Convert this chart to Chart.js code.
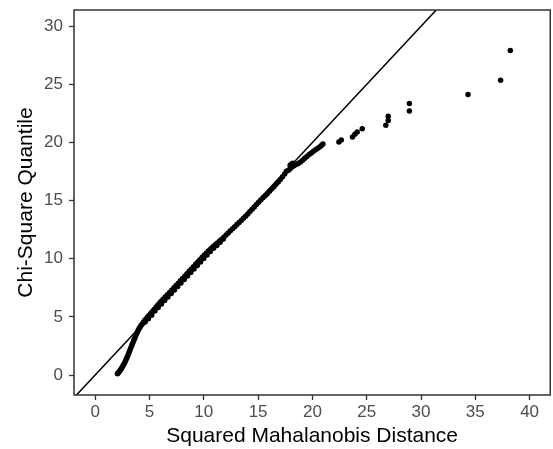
<!DOCTYPE html>
<html><head><meta charset="utf-8">
<script src="https://cdn.jsdelivr.net/npm/chart.js@4/dist/chart.umd.min.js"></script>
<style>html,body{margin:0;padding:0;background:#fff;} #wrap{width:553px;height:449px;}</style>
</head><body><div id="wrap"><canvas id="c" width="553" height="449"></canvas></div>
<script>
// Squared Mahalanobis distances (x)
const mahalanobis = [
  2.05,2.12,2.2,2.28,2.36,2.44,2.52,2.6,2.68,2.76,2.84,2.92,3.0,3.08,3.16,3.24,3.32,3.4,3.48,3.56,3.64,3.72,3.8,3.88,3.96,
  4.05,4.14,4.24,4.35,4.46,4.58,4.7,4.83,4.96,5.09,5.22,5.35,5.48,5.62,5.76,5.9,
  6.05,6.25,6.45,6.65,6.85,7.05,7.25,7.45,7.65,7.85,8.05,8.25,8.45,8.65,8.85,9.05,9.25,9.45,9.65,9.85,
  10.05,10.25,10.45,10.65,10.85,11.05,11.25,11.45,11.65,11.85,12.05,12.25,12.45,12.65,12.85,13.05,13.25,13.45,13.65,13.85,
  14.05,14.25,14.45,14.65,14.85,15.05,15.25,15.45,15.65,15.85,16.05,16.25,16.45,16.65,16.85,17.05,17.25,17.45,
  4.6,4.9,5.2,5.5,5.8,6.1,6.4,6.7,7.0,7.3,7.6,7.9,8.2,8.5,8.8,9.1,9.4,9.7,10.0,10.3,10.6,10.9,11.2,11.5,11.8,
  17.6,17.8,17.95,18.1,18.3,18.5,18.7,18.9,19.1,19.3,19.5,19.7,19.9,20.1,20.3,20.5,20.7,20.85,20.97,
  17.95,18.1,18.2,
  22.44,22.66,23.69,23.91,24.13,24.59,26.76,26.98,26.98,28.93,28.93,34.33,37.33,38.22
];
// Chi-square quantiles (y)
const chiSquare = [
  0.1,0.17,0.27,0.37,0.48,0.6,0.73,0.86,1.0,1.15,1.31,1.48,1.66,1.85,2.04,2.23,2.42,2.61,2.8,2.99,3.17,3.35,3.52,3.68,3.84,
  4.0,4.14,4.28,4.42,4.56,4.7,4.84,4.98,5.12,5.26,5.4,5.54,5.68,5.84,6.0,6.16,
  6.32,6.52,6.72,6.9,7.1,7.3,7.5,7.7,7.9,8.1,8.3,8.5,8.72,8.92,9.12,9.32,9.52,9.72,9.92,10.12,
  10.32,10.5,10.68,10.86,11.04,11.2,11.36,11.52,11.68,11.86,12.04,12.22,12.4,12.58,12.76,12.94,13.12,13.3,13.48,13.66,
  13.86,14.06,14.26,14.46,14.66,14.86,15.06,15.24,15.42,15.6,15.8,16.0,16.2,16.4,16.6,16.82,17.05,17.3,
  4.55,4.85,5.15,5.5,5.8,6.1,6.4,6.72,7.02,7.32,7.62,7.92,8.22,8.52,8.82,9.12,9.42,9.72,10.02,10.32,10.62,10.9,11.15,11.42,11.7,
  17.52,17.62,17.75,17.88,18.0,18.1,18.2,18.32,18.48,18.64,18.8,18.96,19.1,19.24,19.38,19.5,19.64,19.76,19.87,
  18.05,18.15,18.22,
  20.04,20.22,20.48,20.71,20.91,21.19,21.49,21.89,22.27,22.72,23.36,24.13,25.35,27.92
];
const xTicks = [0,5,10,15,20,25,30,35,40];
const yTicks = [0,5,10,15,20,25,30];
const refLineEnds = [-5, 45]; // ends of the y = x reference line
const xTitle = 'Squared Mahalanobis Distance';
const yTitle = 'Chi-Square Quantile';

const points = mahalanobis.map((x, i) => ({x: x, y: chiSquare[i]}));
const refLine = refLineEnds.map(v => ({x: v, y: v}));

const FONT = '"Liberation Sans", Arial, Helvetica, sans-serif';

const panelBorder = {
  id: 'panelBorder',
  afterDraw(chart) {
    const {ctx, chartArea: a} = chart;
    ctx.save();
    ctx.strokeStyle = '#333333';
    ctx.lineWidth = 1.5;
    ctx.strokeRect(a.left, a.top, a.right - a.left, a.bottom - a.top);
    ctx.restore();
  }
};

function noPad(s) { s.paddingTop = 0; s.paddingBottom = 0; s.paddingLeft = 0; s.paddingRight = 0; }

new Chart(document.getElementById('c'), {
  type: 'scatter',
  data: {
    datasets: [
      {
        data: points,
        backgroundColor: '#000000',
        borderWidth: 0,
        pointRadius: 2.75,
        pointHoverRadius: 2.75
      },
      {
        type: 'line',
        data: refLine,
        borderColor: '#000000',
        borderWidth: 1.5,
        pointRadius: 0,
        fill: false,
        showLine: true
      }
    ]
  },
  options: {
    responsive: false,
    devicePixelRatio: 1,
    animation: false,
    events: [],
    layout: {padding: {left: 0, right: 2, top: 10, bottom: 0}},
    plugins: {legend: {display: false}, tooltip: {enabled: false}},
    scales: {
      x: {
        type: 'linear',
        min: -1.95,
        max: 41.9,
        afterBuildTicks: s => { s.ticks = xTicks.map(v => ({value: v})); },
        afterFit: s => { s.height = 54; noPad(s); },
        border: {display: false},
        grid: {drawOnChartArea: false, drawTicks: true, tickLength: 5, tickColor: '#333333', tickWidth: 1.3},
        ticks: {color: '#4D4D4D', font: {family: FONT, size: 17}, padding: 2, maxRotation: 0, autoSkip: false},
        title: {display: true, text: xTitle, color: '#000000', font: {family: FONT, size: 21}, padding: {top: 0, bottom: 0}}
      },
      y: {
        type: 'linear',
        min: -1.72,
        max: 31.4,
        afterBuildTicks: s => { s.ticks = yTicks.map(v => ({value: v})); },
        afterFit: s => { s.width = 74; noPad(s); },
        border: {display: false},
        grid: {drawOnChartArea: false, drawTicks: true, tickLength: 5, tickColor: '#333333', tickWidth: 1.3},
        ticks: {color: '#4D4D4D', font: {family: FONT, size: 17}, padding: 6, autoSkip: false},
        title: {display: true, text: yTitle, color: '#000000', font: {family: FONT, size: 21}, padding: {top: 14, bottom: 0}}
      }
    }
  },
  plugins: [panelBorder]
});
</script>
</body></html>
